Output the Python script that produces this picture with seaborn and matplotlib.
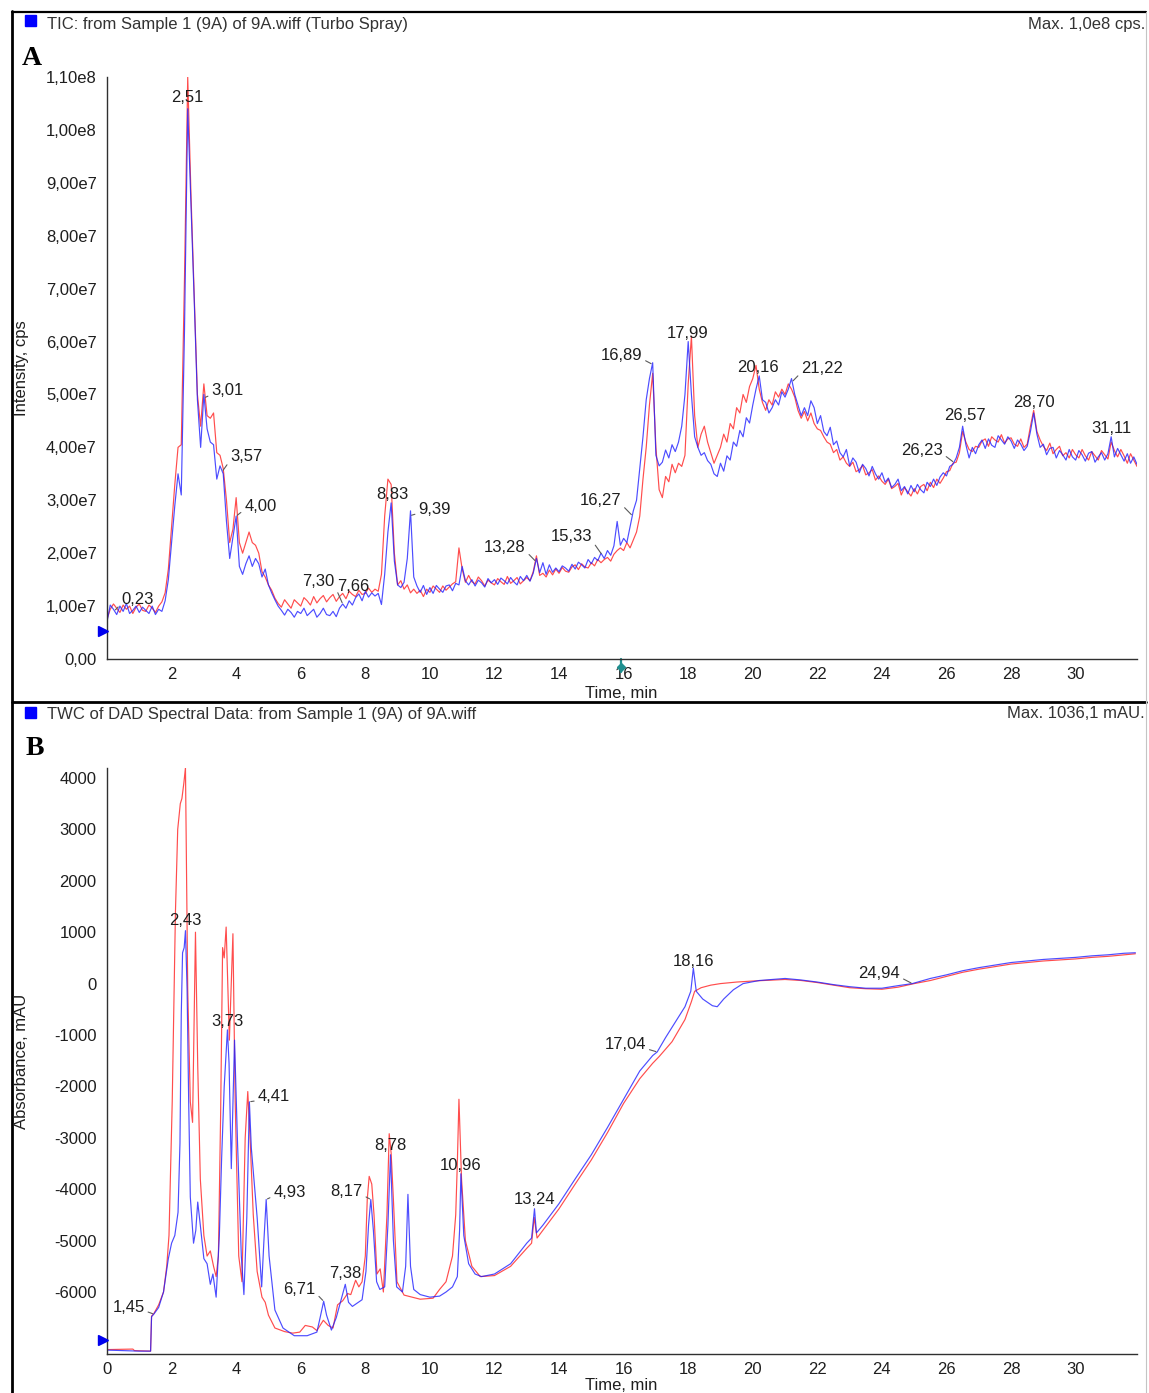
import numpy as np
import pandas as pd
import matplotlib
matplotlib.use("Agg")
import matplotlib.pyplot as plt
from matplotlib.lines import Line2D
from matplotlib.patches import Rectangle
from matplotlib.ticker import FixedLocator, FuncFormatter
from matplotlib.transforms import blended_transform_factory
import seaborn as sns

# ---------------------------------------------------------------- data
# TIC traces, one reading every 0.1 min from 0.0 min, intensity in 1e6 cps
tic_blue = [
    7.0, 10.2, 9.4, 8.4, 10.0, 9.0, 10.5, 8.6, 9.2, 10.0,
    8.8, 9.8, 9.2, 8.6, 10.0, 8.4, 9.4, 9.0, 11.0, 15.0,
    22.0, 29.0, 35.0, 31.0, 62.0, 104.0, 86.0, 68.0, 49.0, 40.0,
    50.0, 43.5, 41.0, 40.5, 34.0, 36.5, 35.0, 26.0, 19.0, 23.0,
    27.0, 17.5, 16.0, 18.0, 19.5, 17.5, 19.0, 18.0, 15.5, 17.0,
    14.0, 12.5, 11.2, 10.0, 9.2, 8.3, 9.4, 8.8, 7.9, 9.0,
    8.6, 9.6, 8.2, 8.8, 9.4, 7.9, 8.6, 9.6, 8.4, 8.2,
    9.0, 8.0, 9.6, 10.4, 9.6, 11.0, 10.2, 11.6, 12.3, 11.0,
    12.8, 11.7, 12.5, 11.9, 12.4, 10.3, 16.0, 24.0, 29.5, 18.5,
    14.0, 13.5, 14.5, 19.0, 28.0, 15.5, 13.8, 12.6, 13.9, 12.2,
    13.5, 12.4, 13.9, 13.2, 12.6, 13.8, 14.0, 12.9, 14.3, 14.0,
    17.5, 14.8, 14.0, 15.0, 13.8, 14.9, 14.4, 13.6, 15.2, 14.4,
    15.0, 14.1, 15.3, 14.8, 14.2, 15.4, 14.6, 14.0, 15.6, 14.8,
    15.8, 14.7, 16.2, 19.0, 16.3, 18.2, 16.0, 17.8, 16.4, 17.2,
    16.5, 17.6, 17.2, 16.6, 17.9, 17.0, 18.3, 17.8, 17.2, 18.8,
    18.0, 19.2, 18.6, 20.0, 19.0, 20.5, 19.6, 21.4, 26.0, 21.5,
    22.8, 22.0, 25.0, 28.0, 30.0, 36.0, 42.0, 49.0, 53.0, 56.0,
    38.5, 36.5, 37.2, 39.5, 38.0, 40.5, 39.2, 41.0, 44.0, 50.0,
    60.0, 50.0, 42.0, 40.0, 38.5, 39.0, 37.5, 36.8, 35.0, 34.5,
    37.0, 35.5, 38.4, 37.6, 41.0, 40.2, 43.2, 42.0, 45.6, 44.6,
    48.0, 51.0, 53.5, 49.0, 48.5, 46.5, 47.5, 49.0, 48.0, 50.5,
    49.5, 51.0, 53.0, 50.0, 48.0, 46.0, 47.5, 46.0, 48.8, 47.5,
    44.5, 46.0, 43.0, 42.2, 43.8, 40.5, 41.2, 39.0, 38.2, 39.6,
    36.5, 38.0, 37.2, 35.2, 36.8, 36.0, 34.6, 36.4, 35.0, 34.0,
    35.2, 33.4, 34.2, 32.4, 33.0, 34.0, 31.8, 32.6, 31.2, 32.8,
    31.6, 33.0, 32.0, 31.4, 33.4, 32.6, 34.0, 32.8, 34.4, 35.2,
    34.6, 36.4, 36.8, 38.0, 40.0, 44.0, 40.5, 38.0, 40.0, 38.8,
    40.5, 41.4, 39.8, 41.6, 40.4, 40.0, 42.2, 41.4, 40.6, 42.0,
    41.2, 39.8, 41.4, 40.6, 39.4, 40.2, 43.0, 46.5, 42.5, 40.0,
    40.6, 38.6, 39.8, 40.0, 38.0, 39.4, 38.6, 37.6, 39.6, 38.2,
    37.6, 39.4, 38.6, 37.4, 38.9, 39.2, 37.2, 38.2, 39.0, 37.6,
    38.8, 42.0, 38.2, 39.8, 38.6, 37.4, 38.8, 37.0, 38.2, 36.8,
]
tic_red = [
    7.5, 9.4, 10.4, 9.6, 8.8, 10.2, 9.4, 10.0, 8.6, 9.8,
    10.4, 9.2, 9.0, 10.2, 9.6, 8.8, 10.0, 10.8, 12.5, 17.0,
    25.0, 33.0, 40.0, 40.5, 72.0, 110.0, 88.0, 69.0, 50.0, 44.0,
    52.0, 46.0, 45.5, 46.5, 39.0, 38.5, 36.0, 30.0, 22.0, 24.5,
    30.5, 22.0, 20.0, 22.0, 24.0, 22.0, 21.5, 20.0, 16.5, 15.5,
    14.0, 13.0, 11.5, 10.5, 9.8, 11.2, 10.4, 9.6, 11.2, 10.6,
    10.0, 11.6, 11.0, 10.2, 11.8, 10.6, 11.4, 12.0, 10.8, 11.6,
    12.2, 10.9, 11.8, 12.4, 11.4, 12.8, 12.2, 11.8, 13.0, 12.2,
    12.4, 13.4, 12.6, 13.2, 12.8, 16.0, 27.0, 34.0, 33.0, 20.0,
    14.0, 14.8, 13.2, 14.0, 12.5, 13.2, 12.4, 13.0, 11.8, 13.2,
    12.6, 13.8, 13.2, 12.6, 13.8, 13.0, 13.6, 14.2, 14.6, 21.0,
    17.0, 14.5, 15.8, 14.6, 14.2, 15.5, 14.8, 13.8, 14.9, 14.4,
    14.0, 15.2, 14.6, 14.1, 15.6, 14.3, 14.8, 15.4, 14.2, 14.8,
    15.4, 14.8, 16.5, 19.5, 15.8, 16.2, 15.5, 16.8, 15.9, 17.0,
    16.2, 17.3, 16.6, 16.4, 17.4, 17.8, 16.9, 18.0, 17.4, 17.2,
    18.2, 17.6, 18.8, 18.2, 18.8, 19.2, 18.5, 19.8, 20.5, 21.0,
    20.5, 22.0, 21.0, 22.5, 24.0, 27.0, 34.0, 40.0, 48.0, 54.0,
    40.0, 32.0, 30.5, 34.5, 33.5, 36.8, 35.2, 37.0, 36.4, 38.5,
    52.0, 61.0, 46.0, 40.0, 42.5, 44.0, 41.0, 39.0, 37.0, 38.5,
    40.0, 42.5, 41.0, 44.5, 43.5, 47.5, 46.5, 50.0, 48.5, 51.5,
    53.0, 55.5, 51.0, 48.5, 47.0, 49.0, 48.0, 50.5, 49.5, 51.0,
    50.0, 52.0, 51.0, 49.5, 47.0, 45.5, 46.8, 45.0, 46.5, 44.5,
    43.5, 43.2, 42.0, 41.0, 40.6, 39.0, 39.6, 37.6, 38.2, 37.0,
    36.4, 37.2, 35.4, 35.8, 36.6, 34.8, 35.2, 35.8, 33.8, 34.6,
    33.6, 33.0, 34.0, 32.2, 32.6, 33.2, 31.0, 32.4, 31.6, 30.8,
    32.2, 31.2, 32.6, 33.0, 31.8, 33.4, 32.4, 34.0, 33.2, 34.2,
    35.4, 35.6, 37.0, 37.2, 39.0, 43.0, 41.0, 39.6, 39.2, 40.2,
    40.0, 41.2, 41.6, 40.2, 42.0, 41.4, 41.0, 42.4, 40.8, 41.6,
    41.8, 40.6, 40.2, 41.6, 40.0, 40.6, 44.0, 47.0, 43.0, 41.4,
    40.2, 39.4, 40.8, 38.8, 39.6, 40.2, 38.4, 39.0, 38.0, 39.6,
    38.6, 38.0, 39.6, 38.4, 37.6, 39.2, 38.4, 37.6, 39.4, 38.6,
    37.8, 41.0, 39.4, 38.2, 39.6, 38.4, 37.0, 38.8, 37.6, 36.4,
]
tic_step_min = 0.1
tic_unit = 1e6

# DAD total wavelength chromatograms (time in min, absorbance in mAU)
dad_blue_t = [0.0, 0.5, 1.0, 1.35, 1.38, 1.45, 1.6, 1.75, 1.9, 2.0, 2.1, 2.2,
              2.26, 2.3, 2.34, 2.39, 2.43, 2.48, 2.53, 2.58, 2.68, 2.75, 2.81,
              2.89, 3.0, 3.1, 3.2, 3.28, 3.38, 3.48, 3.55, 3.63, 3.73, 3.78,
              3.85, 3.95, 4.04, 4.16, 4.24, 4.33, 4.41, 4.47, 4.53, 4.65,
              4.79, 4.86, 4.93, 5.02, 5.2, 5.45, 5.8, 6.2, 6.5, 6.6, 6.71,
              6.8, 6.95, 7.1, 7.25, 7.38, 7.48, 7.6, 7.9, 8.02, 8.1, 8.17,
              8.25, 8.35, 8.45, 8.6, 8.7, 8.78, 8.87, 8.97, 9.15, 9.25, 9.32,
              9.4, 9.5, 9.7, 10.0, 10.3, 10.5, 10.7, 10.85, 10.92, 10.96,
              11.05, 11.2, 11.4, 11.6, 12.0, 12.5, 13.0, 13.15, 13.24, 13.3,
              13.5, 14.0, 14.5, 15.0, 15.5, 16.0, 16.5, 16.9, 17.04, 17.3,
              17.6, 17.9, 18.08, 18.16, 18.25, 18.45, 18.75, 18.9, 19.1, 19.4,
              19.7, 20.2, 21.0, 21.5, 22.0, 22.5, 23.0, 23.5, 24.0, 24.5,
              24.94, 25.5, 26.0, 26.5, 27.0, 27.5, 28.0, 28.5, 29.0, 29.5,
              30.0, 30.5, 31.0, 31.5, 31.85]
dad_blue_v = [-7130, -7140, -7150, -7150, -6480, -6430, -6300, -6000, -5350,
              -5050, -4900, -4450, -3100, -600, 600, 700, 1030, -100, -2300,
              -4150, -5050, -4800, -4250, -4700, -5350, -5450, -5850, -5650,
              -6100, -4900, -3400, -2000, -900, -1550, -3600, -1100, -3050,
              -5300, -6050, -4550, -2300, -3200, -3650, -4550, -5900, -5000,
              -4200, -5300, -6350, -6700, -6850, -6850, -6780, -6500, -6180,
              -6450, -6740, -6500, -6150, -5850, -6200, -6280, -6150, -5600,
              -4700, -4200, -4800, -5800, -5950, -5900, -4700, -3330, -5000,
              -5900, -6000, -5500, -4100, -5500, -5950, -6050, -6100, -6080,
              -6000, -5900, -5700, -4800, -3700, -4900, -5450, -5650, -5700,
              -5650, -5450, -5050, -4950, -4380, -4850, -4700, -4280, -3800,
              -3330, -2800, -2250, -1700, -1400, -1330, -1050, -750, -450,
              -150, 300, -150, -300, -430, -450, -300, -120, 0, 60, 100, 70,
              30, -20, -60, -90, -90, -40, 0, 100, 170, 250, 310, 360, 410,
              440, 470, 490, 510, 540, 560, 590, 600]
dad_red_t = [0.0, 0.8, 0.85, 1.35, 1.38, 1.45, 1.6, 1.75, 1.85, 1.92, 2.02,
             2.12, 2.19, 2.27, 2.32, 2.38, 2.43, 2.5, 2.58, 2.65, 2.74, 2.81,
             2.89, 3.0, 3.1, 3.2, 3.3, 3.38, 3.45, 3.52, 3.58, 3.63, 3.69,
             3.79, 3.9, 3.97, 4.08, 4.18, 4.28, 4.36, 4.43, 4.53, 4.65, 4.8,
             4.9, 5.0, 5.2, 5.5, 5.75, 5.97, 6.14, 6.36, 6.5, 6.7, 6.85, 7.0,
             7.14, 7.3, 7.45, 7.55, 7.7, 7.8, 7.9, 8.0, 8.06, 8.12, 8.2,
             8.27, 8.36, 8.46, 8.56, 8.67, 8.74, 8.8, 8.87, 8.98, 9.2, 9.7,
             10.1, 10.3, 10.5, 10.7, 10.8, 10.85, 10.9, 10.98, 11.1, 11.3,
             11.56, 12.0, 12.5, 13.0, 13.15, 13.23, 13.32, 13.5, 14.0, 14.5,
             15.0, 15.5, 16.0, 16.5, 16.9, 17.1, 17.5, 17.9, 18.1, 18.2,
             18.4, 18.7, 19.0, 19.5, 20.0, 21.0, 21.5, 22.0, 22.5, 23.0,
             23.5, 24.0, 24.5, 25.0, 25.5, 26.0, 26.5, 27.0, 27.5, 28.0,
             28.5, 29.0, 29.5, 30.0, 30.5, 31.0, 31.5, 31.85]
dad_red_v = [-7120, -7110, -7140, -7150, -6470, -6420, -6250, -6000, -5500,
             -4900, -2300, 1400, 3000, 3500, 3600, 3900, 4200, -100, -2300,
             -2700, 1000, -1600, -3800, -4900, -5300, -5200, -5500, -5700,
             -5300, -2500, 700, 500, 1100, -1100, 970, -2300, -5300, -5800,
             -3000, -2100, -3000, -4500, -5600, -6100, -6200, -6450, -6700,
             -6770, -6800, -6780, -6650, -6680, -6750, -6550, -6650, -6700,
             -6250, -6170, -6030, -6050, -5770, -5900, -5800, -5300, -4200,
             -3750, -3900, -4500, -5650, -5550, -6000, -4500, -2920, -3300,
             -4200, -5800, -6060, -6140, -6120, -5950, -5800, -5300, -4500,
             -3500, -2250, -3800, -5000, -5500, -5700, -5680, -5500, -5150,
             -5050, -4550, -4950, -4800, -4380, -3900, -3430, -2900, -2330,
             -1850, -1550, -1420, -1130, -700, -350, -150, -80, -30, 0, 30,
             50, 80, 60, 20, -30, -80, -100, -110, -70, 0, 60, 140, 220, 280,
             330, 380, 410, 440, 460, 480, 510, 530, 560, 580]

# labelled retention times
tic_peaks = [0.23, 2.51, 3.01, 3.57, 4.00, 7.30, 7.66, 8.83, 9.39, 13.28,
             15.33, 16.27, 16.89, 17.99, 20.16, 21.22, 26.23, 26.57, 28.70, 31.11]
dad_peaks = [1.45, 2.43, 3.73, 4.41, 4.93, 6.71, 7.38, 8.17, 8.78, 10.96,
             13.24, 17.04, 18.16, 24.94]

tic_title = "TIC: from Sample 1 (9A) of 9A.wiff (Turbo Spray)"
tic_max = "Max. 1,0e8 cps."
dad_title = "TWC of DAD Spectral Data: from Sample 1 (9A) of 9A.wiff"
dad_max = "Max. 1036,1 mAU."

# label placement: (dx px, dy px, alignment, leader line)
tic_label_layout = [
    (7, 11, "left", True), (-1, 21, "center", False), (7, 7, "left", True),
    (8, 15, "left", True), (8, 10, "left", True), (-8, 22, "right", True),
    (-1, 14, "center", False), (0, 26, "center", False), (8, 6, "left", True),
    (-10, 14, "right", True), (-10, 18, "right", True), (-11, 15, "right", True),
    (-10, 9, "right", True), (0, 13, "center", False), (0, 14, "center", False),
    (9, 13, "left", True), (-11, 12, "right", True), (0, 24, "center", False),
    (0, 10, "center", False), (0, 10, "center", False),
]
dad_label_layout = [
    (-9, 7, "right", True), (0, 10, "center", False), (0, 8, "center", False),
    (8, 5, "left", True), (7, 7, "left", True), (-8, 12, "right", True),
    (0, 11, "center", False), (-8, 8, "right", True), (0, 9, "center", False),
    (0, 8, "center", False), (0, 9, "center", False), (-11, 7, "right", True),
    (0, 7, "center", False), (-12, 10, "right", True),
]

# ---------------------------------------------------------------- style
sns.set_style("white")
plt.rcParams["font.family"] = ["Liberation Sans", "DejaVu Sans"]
plt.rcParams["font.size"] = 12

FS = 12
RED = "#ff2020"
BLUE = "#2020ff"
TEXT = "#1e1e1e"
W, H = 1149, 1393


def fx(px):
    return px / W


def fy(py):
    return 1 - py / H


fig = plt.figure(figsize=(W / 100, H / 100), dpi=100)

axA = fig.add_axes([fx(107), fy(659), fx(1137) - fx(107), fy(77) - fy(659)])
axB = fig.add_axes([fx(107), fy(1353.7), fx(1137) - fx(107), fy(767.7) - fy(1353.7)])

tic_df = pd.DataFrame({
    "time": np.arange(len(tic_blue)) * tic_step_min,
    "blue": np.array(tic_blue) * tic_unit,
})
tic_red_df = pd.DataFrame({
    "time": np.arange(len(tic_red)) * tic_step_min,
    "red": np.array(tic_red) * tic_unit,
})
dad_blue_df = pd.DataFrame({"time": dad_blue_t, "abs": dad_blue_v})
dad_red_df = pd.DataFrame({"time": dad_red_t, "abs": dad_red_v})

line_kw = dict(estimator=None, sort=False, linewidth=0.85, alpha=0.8)
sns.lineplot(data=tic_red_df, x="time", y="red", ax=axA, color=RED, **line_kw)
sns.lineplot(data=tic_df, x="time", y="blue", ax=axA, color=BLUE, **line_kw)
sns.lineplot(data=dad_red_df, x="time", y="abs", ax=axB, color=RED, **line_kw)
sns.lineplot(data=dad_blue_df, x="time", y="abs", ax=axB, color=BLUE, **line_kw)


def sci_comma(v, _pos=None):
    if abs(v) < 1e-9:
        return "0,00"
    exp = int(np.floor(np.log10(abs(v)) + 1e-9))
    mant = v / 10 ** exp
    return f"{mant:.2f}".replace(".", ",") + f"e{exp}"


def style_axes(ax, xmajor, ymajor, yminor, yfmt):
    ax.set_xlabel("")
    ax.set_ylabel("")
    for side in ("top", "right"):
        ax.spines[side].set_visible(False)
    for side in ("left", "bottom"):
        ax.spines[side].set_color("#303030")
        ax.spines[side].set_linewidth(1.0)
    ax.set_xlim(0, 31.9)
    ax.xaxis.set_major_locator(FixedLocator(xmajor))
    ax.xaxis.set_minor_locator(FixedLocator(list(range(1, 32, 2))))
    ax.xaxis.set_major_formatter(FuncFormatter(lambda v, p: f"{int(round(v))}"))
    ax.yaxis.set_major_locator(FixedLocator(ymajor))
    ax.yaxis.set_minor_locator(FixedLocator(yminor))
    ax.yaxis.set_major_formatter(FuncFormatter(yfmt))
    ax.tick_params(axis="both", which="major", direction="out", length=3.8,
                   width=1.0, color="#303030", labelsize=FS, labelcolor=TEXT,
                   pad=2.2)
    ax.tick_params(axis="both", which="minor", direction="out", length=3.0,
                   width=0.9, color="#303030")
    ax.tick_params(axis="y", which="major", pad=3.6)
    ax.grid(False)


style_axes(axA, list(range(2, 31, 2)),
           [i * 1e7 for i in range(0, 12)],
           [i * 1e7 + 5e6 for i in range(0, 11)], sci_comma)
axA.set_ylim(0, 1.10e8)

style_axes(axB, list(range(0, 31, 2)),
           list(range(-6000, 4001, 1000)),
           list(range(-6500, 4001, 1000)),
           lambda v, p: f"{int(round(v))}")
axB.set_ylim(-7200, 4200)


def label_peaks(ax, times, trace_t, trace_v, layout):
    for t, (dx, dy, ha, lead) in zip(times, layout):
        v = float(np.interp(t, trace_t, trace_v))
        text = f"{t:.2f}".replace(".", ",")
        kw = dict(xy=(t, v), xytext=(dx, dy), textcoords="offset pixels",
                  ha=ha, va="center", fontsize=FS, color=TEXT, zorder=5)
        if lead:
            rel = (1.0, 0.25) if ha == "right" else (0.0, 0.25)
            kw["arrowprops"] = dict(arrowstyle="-", color="#5a5a5a", lw=0.8,
                                    shrinkA=0, shrinkB=1, relpos=rel)
        ax.annotate(text, **kw)


label_peaks(axA, tic_peaks, tic_df["time"], tic_df["blue"], tic_label_layout)
label_peaks(axB, dad_peaks, dad_blue_t, dad_blue_v, dad_label_layout)

# start markers on the y axes
for ax, v in ((axA, 5.3e6), (axB, -6930)):
    tr = blended_transform_factory(ax.transAxes, ax.transData)
    ax.plot([-0.004], [v], marker=">", ms=7, color="#0000ee", transform=tr,
            clip_on=False, zorder=6)

# cursor marker on the TIC time axis
trA = blended_transform_factory(axA.transData, axA.transAxes)
axA.plot([15.93, 15.93], [0.0, -0.022], color="#1f8f8f", lw=1.6,
         transform=trA, clip_on=False)
axA.plot([15.93], [-0.014], marker="D", ms=4, color="#1f8f8f",
         transform=trA, clip_on=False)

# panel headers, letters and axis titles
for (sq_top, txt_y, title, max_txt, letter, letter_x, letter_y) in (
        (15, 25, tic_title, tic_max, "A", 22, 65),
        (707, 714, dad_title, dad_max, "B", 26, 755)):
    fig.add_artist(Rectangle((fx(25), fy(sq_top + 11)), fx(11), 11 / H,
                             transform=fig.transFigure, color="#0000ff"))
    fig.text(fx(47), fy(txt_y), title, ha="left", va="center",
             fontsize=FS, color="#333333")
    fig.text(fx(1145), fy(txt_y), max_txt, ha="right", va="center",
             fontsize=FS, color="#333333")
    fig.text(fx(letter_x), fy(letter_y), letter,
             ha="left", va="baseline", fontsize=20, fontweight="bold",
             family="Liberation Serif", color="black")

fig.text(fx(22), fy(368), "Intensity, cps", rotation=90, ha="center",
         va="center", fontsize=FS, color=TEXT)
fig.text(fx(22), fy(1061), "Absorbance, mAU", rotation=90, ha="center",
         va="center", fontsize=FS, color=TEXT)
fig.text(fx(621), fy(693), "Time, min", ha="center", va="center",
         fontsize=FS, color=TEXT)
fig.text(fx(621), fy(1386), "Time, min", ha="center", va="center",
         fontsize=FS, color=TEXT)

# panel frames
frame = [
    ((12, 12), (1146, 12), "black", 1.6),
    ((12, 11), (12, 1393), "black", 2.0),
    ((12, 702), (1146, 702), "black", 2.0),
    ((1146, 12), (1146, 1393), "#c4c4c4", 0.8),
]
for (x0, y0), (x1, y1), col, lw in frame:
    fig.add_artist(Line2D([fx(x0), fx(x1)], [fy(y0), fy(y1)],
                          transform=fig.transFigure, color=col, lw=lw))

fig.savefig("out.png", dpi=100, facecolor="white")
